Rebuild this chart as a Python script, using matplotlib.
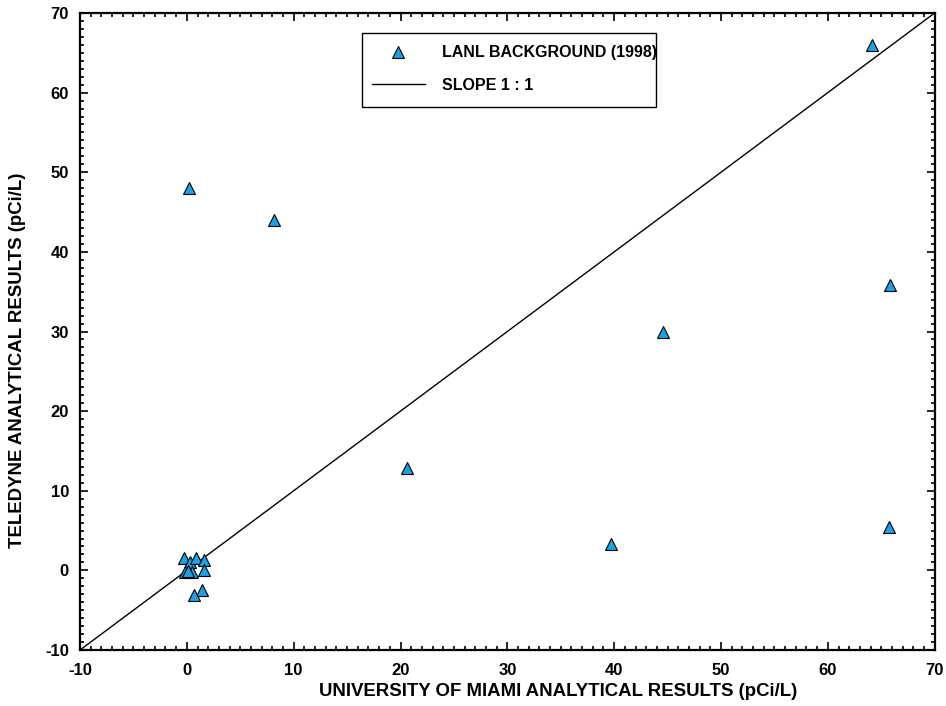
import matplotlib
matplotlib.use("Agg")
import matplotlib.pyplot as plt
from matplotlib.ticker import MultipleLocator
from matplotlib.patches import Rectangle

plt.rcParams['font.family'] = ['Liberation Sans', 'DejaVu Sans']
plt.rcParams['font.weight'] = 'bold'
plt.rcParams['axes.unicode_minus'] = False

miami = [0.2, 8.2, 20.6, 39.7, 44.6, 64.1, 65.8, 65.7,
         -0.3, 0.3, 0.9, 1.6, 1.6, 0.45, -0.2, 0.1, 1.4, 0.7]
teledyne = [48.0, 44.0, 12.8, 3.3, 30.0, 66.0, 35.8, 5.4,
            1.5, 1.1, 1.5, 1.3, 0.1, -0.2, -0.2, -0.1, -2.5, -3.1]
slope_line = [-10, 70]

fig = plt.figure(figsize=(9.46, 7.06), dpi=100)
ax = fig.add_axes([0.0846, 0.0793, 0.9034, 0.9023])

ax.plot(slope_line, slope_line, color='black', lw=1.0, label='SLOPE 1 : 1')
ax.plot(miami, teledyne, linestyle='none', marker='^', markersize=9,
        markerfacecolor='#1BA1E2', markeredgecolor='black', markeredgewidth=0.8,
        label='LANL BACKGROUND (1998)', zorder=3)

ax.set_xlim(-10, 70)
ax.set_ylim(-10, 70)
ax.xaxis.set_major_locator(MultipleLocator(10))
ax.yaxis.set_major_locator(MultipleLocator(10))
ax.xaxis.set_minor_locator(MultipleLocator(1))
ax.yaxis.set_minor_locator(MultipleLocator(1))
ax.tick_params(which='both', direction='in', top=True, right=True, width=1.2)
ax.tick_params(which='major', length=6, labelsize=12)
ax.tick_params(which='minor', length=3)
ax.tick_params(axis='x', which='major', pad=9)
ax.tick_params(axis='y', which='major', pad=8)
for lab in ax.get_xticklabels() + ax.get_yticklabels():
    lab.set_fontweight('bold')
for s in ax.spines.values():
    s.set_linewidth(1.6)

ax.set_xlabel('UNIVERSITY OF MIAMI ANALYTICAL RESULTS (pCi/L)', fontsize=13.4, fontweight='bold')
ax.set_ylabel('TELEDYNE ANALYTICAL RESULTS (pCi/L)', fontsize=13.4, fontweight='bold')
ax.xaxis.set_label_coords(0.559, -0.051)
ax.yaxis.set_label_coords(-0.063, 0.455)

handles, labels = ax.get_legend_handles_labels()
leg = ax.legend(handles[::-1], labels[::-1], loc='upper left',
                bbox_to_anchor=(0.3415, 0.949), borderaxespad=0, borderpad=0,
                frameon=False, prop={'weight': 'bold', 'size': 11.5},
                handlelength=3.3, labelspacing=1.1, handletextpad=1.1)
ax.add_patch(Rectangle((0.3298, 0.8524), 0.3439, 0.1162, transform=ax.transAxes,
                       fill=False, edgecolor='black', lw=1.0, zorder=4))

fig.savefig('out.png', dpi=100)
